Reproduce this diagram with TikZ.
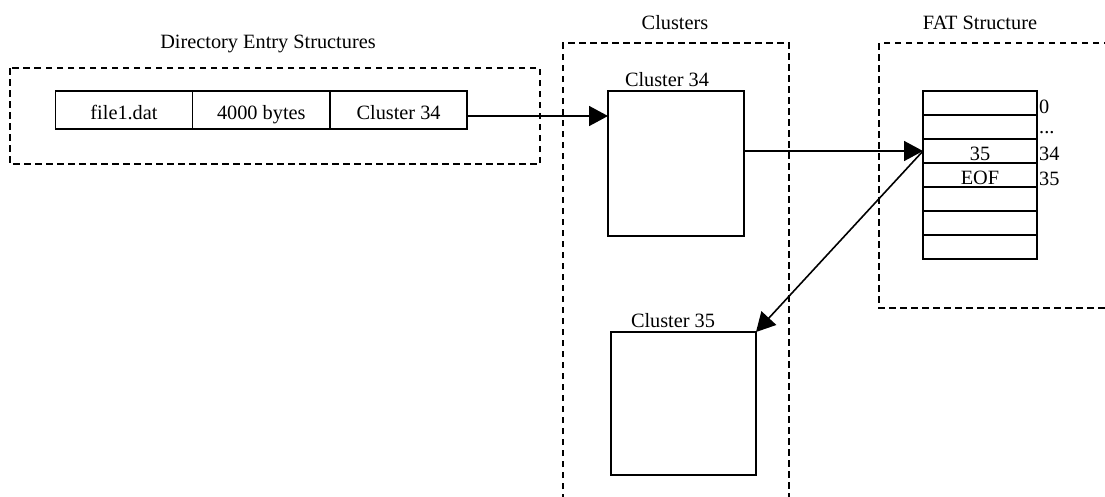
\documentclass[tikz,border=0pt]{standalone}
\usepackage{fontspec}
\setmainfont{Liberation Serif}
\usetikzlibrary{arrows.meta}
\begin{document}
\begin{tikzpicture}[x=1pt,y=-1pt,
  every node/.style={font=\fontsize{20.3}{24}\selectfont},
  cell/.style={draw,line width=1.6pt,rectangle,inner sep=0pt,outer sep=0pt,
    text height=18pt,text depth=0pt},
  dircell/.style={cell,minimum width=137.3pt,minimum height=38pt},
  fatrow/.style={cell,minimum width=114pt,minimum height=24pt},
  clusterbox/.style={cell,minimum width=136pt,minimum height=145pt},
  group/.style={line width=1.4pt,dash pattern=on 6.5pt off 4.5pt},
  link/.style={line width=1.6pt,-{Triangle[length=19pt,width=20pt]}},
  idx/.style={anchor=base west,inner sep=0pt}
]
\useasboundingbox (0,0) rectangle (1105,496);

% group frames
\draw[group] (10,68) rectangle (540,164);
\draw[group] (563,500) -- (563,43) -- (789,43) -- (789,500);
\draw[group] (1110,43) -- (879,43) -- (879,308) -- (1110,308);

% group titles
\node (tdir) at (268,44) {Directory Entry Structures};
\node (tclu) at (675,23) {Clusters};
\node (tfat) at (980,23) {FAT Structure};

% directory entry
\node[dircell] (d1) at (124,110) {file1.dat};
\node[dircell,anchor=west] (d2) at (d1.east) {4000 bytes};
\node[dircell,anchor=west] (d3) at (d2.east) {Cluster 34};

% clusters
\node[clusterbox,minimum height=145pt] (c34) at (676,163.5) {};
\node (l34) at (667,80) {Cluster 34};
\node[clusterbox,minimum width=145pt,minimum height=143pt] (c35) at (683.5,403.5) {};
\node (l35) at (673,321) {Cluster 35};

% FAT table
\node[fatrow] (r1) at (980,103) {};
\node[fatrow,anchor=north] (r2) at (r1.south) {};
\node[fatrow,anchor=north] (r3) at (r2.south) {35};
\node[fatrow,anchor=north] (r4) at (r3.south) {EOF};
\node[fatrow,anchor=north] (r5) at (r4.south) {};
\node[fatrow,anchor=north] (r6) at (r5.south) {};
\node[fatrow,anchor=north] (r7) at (r6.south) {};

% FAT indices
\node[idx] (i0) at (1039,113) {0};
\node[idx] (i1) at (1039,133) {...};
\node[idx] (i34) at (1039,160) {34};
\node[idx] (i35) at (1039,185) {35};

% pointers
\draw[link] ([yshift=-6pt]d3.east) -- ([yshift=-6pt]d3.east -| c34.west);
\draw[link] (c34.east |- r3.west) -- (r3.west);
\draw[link] (r3.west) -- (c35.north east);
\end{tikzpicture}
\end{document}
